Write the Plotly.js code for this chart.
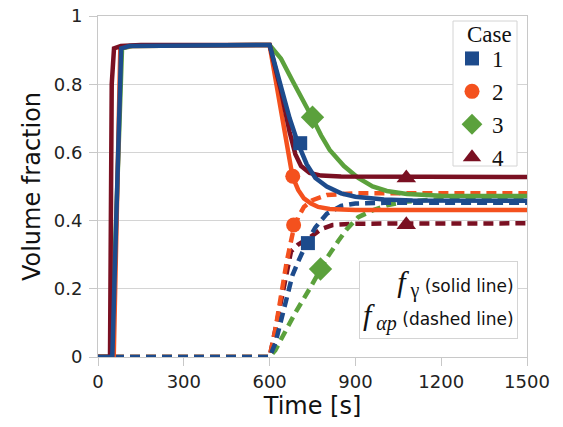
<!DOCTYPE html>
<html>
<head>
<meta charset="utf-8">
<script src="https://cdn.plot.ly/plotly-3.0.1.min.js"></script>
<style>html,body{margin:0;padding:0;background:#fff;}#chart{width:563px;height:427px;}</style>
</head>
<body>
<div id="chart"></div>
<script>
// Case names and colours
const caseNames = ["1", "2", "3", "4"];
const caseColors = ["#1d4b8c", "#f4511e", "#5ba13c", "#7a1022"];
const caseSymbols = ["square", "circle", "diamond", "triangle-up"];

// f_gamma (solid lines): time [s] and volume fraction
const solidT1 = [0, 50, 81, 110, 600, 640, 670, 700, 730, 760, 800, 850, 900, 1000, 1100, 1500];
const solidY1 = [0, 0, 0.905, 0.912, 0.915, 0.79, 0.70, 0.625, 0.565, 0.525, 0.50, 0.48, 0.47, 0.462, 0.459, 0.458];
const solidT2 = [0, 55, 78, 110, 600, 620, 640, 660, 680, 700, 720, 745, 770, 810, 900, 1500];
const solidY2 = [0, 0, 0.905, 0.912, 0.915, 0.82, 0.72, 0.615, 0.53, 0.49, 0.465, 0.45, 0.44, 0.434, 0.431, 0.431];
const solidT3 = [0, 47, 84, 120, 600, 640, 680, 720, 750, 780, 810, 860, 910, 960, 1010, 1080, 1200, 1500];
const solidY3 = [0, 0, 0.905, 0.912, 0.915, 0.875, 0.81, 0.75, 0.70, 0.65, 0.607, 0.56, 0.525, 0.50, 0.487, 0.478, 0.473, 0.472];
const solidT4 = [0, 42, 48, 56, 80, 150, 600, 640, 670, 690, 710, 740, 780, 850, 1500];
const solidY4 = [0, 0, 0.8, 0.905, 0.912, 0.915, 0.915, 0.78, 0.66, 0.595, 0.56, 0.54, 0.532, 0.529, 0.528];

// f_alpha_p (dashed lines)
const dashT1 = [0, 600, 620, 640, 660, 680, 700, 730, 760, 800, 850, 900, 1000, 1500];
const dashY1 = [0, 0, 0.04, 0.11, 0.18, 0.24, 0.28, 0.335, 0.38, 0.42, 0.443, 0.45, 0.452, 0.452];
const dashT2 = [0, 600, 620, 640, 660, 680, 700, 720, 750, 800, 900, 1500];
const dashY2 = [0, 0, 0.08, 0.18, 0.28, 0.36, 0.41, 0.44, 0.46, 0.475, 0.48, 0.48];
const dashT3 = [0, 600, 620, 650, 690, 740, 775, 800, 840, 870, 910, 960, 1010, 1080, 1200, 1500];
const dashY3 = [0, 0, 0.02, 0.07, 0.13, 0.20, 0.255, 0.29, 0.34, 0.375, 0.41, 0.43, 0.445, 0.456, 0.463, 0.465];
const dashT4 = [0, 600, 620, 640, 660, 675, 700, 740, 780, 820, 900, 1500];
const dashY4 = [0, 0, 0.08, 0.17, 0.26, 0.31, 0.33, 0.35, 0.375, 0.387, 0.391, 0.392];

// Marker positions on the curves
const markSolidT = [707, 681, 750, 1078];
const markSolidY = [0.627, 0.53, 0.703, 0.525];
const markDashT = [734, 684, 778, 1078];
const markDashY = [0.334, 0.387, 0.258, 0.388];
const markSizes = [14, 15, 18, 17];

const xTicks = [0, 300, 600, 900, 1200, 1500];
const yTicks = [0, 0.2, 0.4, 0.6, 0.8, 1];

const solids = [[solidT1, solidY1], [solidT2, solidY2], [solidT3, solidY3], [solidT4, solidY4]];
const dashes = [[dashT1, dashY1], [dashT2, dashY2], [dashT3, dashY3], [dashT4, dashY4]];

const traces = [];
const dashOrder = [3, 2, 1, 0];
dashOrder.forEach(i => {
  traces.push({
    x: dashes[i][0], y: dashes[i][1], mode: "lines", showlegend: false,
    line: {color: caseColors[i], width: 4.5, dash: "10px,6px"}, hoverinfo: "skip"
  });
});
const solidOrder = [2, 1, 3, 0];
solidOrder.forEach(i => {
  traces.push({
    x: solids[i][0], y: solids[i][1], mode: "lines", showlegend: false,
    line: {color: caseColors[i], width: 4.5}, hoverinfo: "skip"
  });
});
for (let i = 0; i < 4; i++) {
  traces.push({
    x: [markDashT[i]], y: [markDashY[i]], mode: "markers", showlegend: false,
    marker: {color: caseColors[i], symbol: caseSymbols[i], size: markSizes[i]}
  });
}
for (let i = 0; i < 4; i++) {
  traces.push({
    x: [markSolidT[i]], y: [markSolidY[i]], mode: "markers", name: caseNames[i],
    marker: {color: caseColors[i], symbol: caseSymbols[i], size: markSizes[i]}
  });
}

const sans = "DejaVu Sans, Verdana, sans-serif";
const serif = "Liberation Serif, Times New Roman, serif";
// paper coordinate helpers (plot area 98..527 x, 16..357 y)
const px = v => (v - 98) / 429;
const py = v => (357 - v) / 341;

const layout = {
  width: 563, height: 427,
  margin: {l: 98, r: 36, t: 16, b: 70},
  paper_bgcolor: "#ffffff", plot_bgcolor: "#ffffff",
  showlegend: true,
  legend: {
    x: px(452), y: py(37), xanchor: "left", yanchor: "top",
    bgcolor: "rgba(0,0,0,0)", borderwidth: 0,
    font: {family: serif, size: 23, color: "#111"},
    itemwidth: 30
  },
  shapes: [{
    type: "rect", xref: "paper", yref: "paper", layer: "above",
    x0: px(453), x1: px(517), y0: py(166), y1: py(21),
    fillcolor: "#ffffff", line: {color: "#d4d4d4", width: 1}
  }],
  xaxis: {
    range: [0, 1500], tickvals: xTicks, ticktext: xTicks.map(String),
    showgrid: false, zeroline: false,
    showline: true, mirror: true, linecolor: "#c8c8c8", linewidth: 1,
    ticks: "outside", ticklen: 8, tickcolor: "#c8c8c8",
    tickfont: {family: sans, size: 18, color: "#222"},
    title: {text: "Time [s]", font: {family: sans, size: 24, color: "#111"}, standoff: 6}
  },
  yaxis: {
    range: [0, 1], tickvals: yTicks, ticktext: ["0", "0.2", "0.4", "0.6", "0.8", "1"],
    showgrid: true, gridcolor: "#d4d4d4", gridwidth: 1, zeroline: false,
    showline: true, mirror: true, linecolor: "#c8c8c8", linewidth: 1,
    ticks: "outside", ticklen: 8, tickcolor: "#c8c8c8", ticklabelstandoff: 3,
    tickfont: {family: sans, size: 18, color: "#222"},
    title: {text: "Volume fraction", font: {family: sans, size: 24, color: "#111"}, standoff: 6}
  },
  annotations: [{
    xref: "paper", yref: "paper", x: px(489), y: py(35), xanchor: "center", yanchor: "middle",
    showarrow: false, text: "Case",
    font: {family: serif, size: 23, color: "#111"}
  }, {
    xref: "paper", yref: "paper", x: px(518), y: py(300), xanchor: "right", yanchor: "middle",
    align: "right", showarrow: false,
    bgcolor: "#ffffff", bordercolor: "#d4d4d4", borderwidth: 1, borderpad: 3,
    font: {family: sans, size: 25, color: "#111"},
    text: '<span style="font-family:Liberation Serif;font-size:30px"><i>f</i></span>' +
          '<sub><span style="font-family:Liberation Serif;font-size:20px"> γ</span></sub>' +
          '<span style="font-size:17px"> (solid line)</span><br>' +
          '<span style="font-family:Liberation Serif;font-size:30px"><i>f</i></span>' +
          '<sub><span style="font-family:Liberation Serif;font-size:20px"><i> αp</i></span></sub>' +
          '<span style="font-size:17px"> (dashed line)</span>'
  }]
};

Plotly.newPlot("chart", traces, layout, {staticPlot: true, displayModeBar: false});
</script>
</body>
</html>
